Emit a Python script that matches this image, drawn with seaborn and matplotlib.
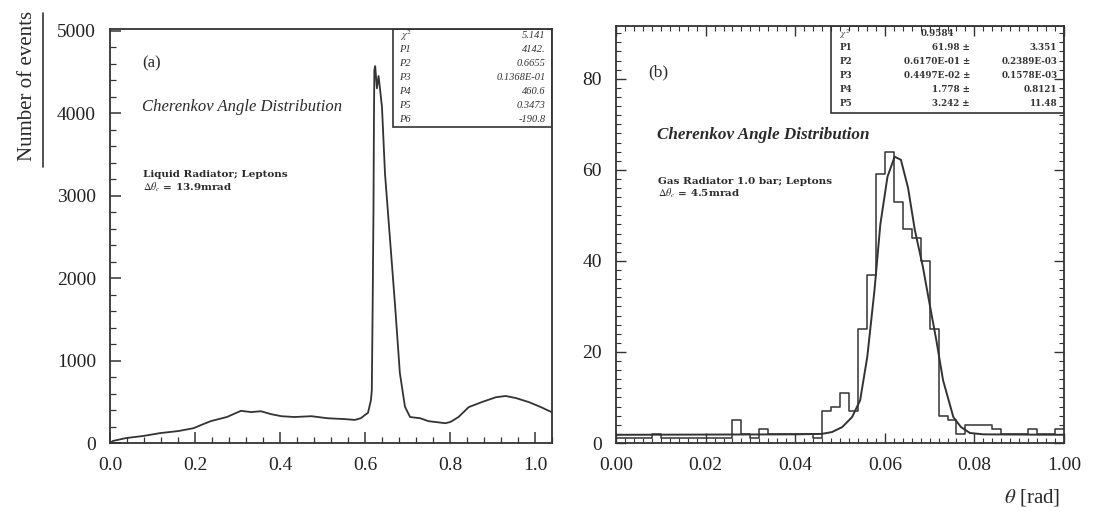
import numpy as np
import matplotlib
matplotlib.use("Agg")
import matplotlib.pyplot as plt
import seaborn as sns
from matplotlib.ticker import MultipleLocator, FixedLocator, FixedFormatter

sns.set_style("ticks")
plt.rcParams['font.family'] = ['Liberation Serif', 'DejaVu Serif']
plt.rcParams['mathtext.fontset'] = 'stix'

ink = '#333333'

# (a) liquid radiator, cherenkov angle [rad] vs number of events
theta_a = [0.000, 0.007, 0.038, 0.078, 0.118, 0.161, 0.197, 0.220, 0.237, 0.275,
           0.308, 0.332, 0.355, 0.379, 0.403, 0.434, 0.474, 0.512, 0.552, 0.576,
           0.590, 0.600, 0.607, 0.614, 0.616, 0.618, 0.620, 0.621, 0.622, 0.624,
           0.628, 0.632, 0.640, 0.647, 0.659, 0.671, 0.682, 0.694, 0.706, 0.730,
           0.749, 0.789, 0.801, 0.820, 0.844, 0.877, 0.908, 0.931, 0.955, 0.986,
           1.014, 1.043]
events_a = [0, 25, 60, 85, 120, 145, 180, 230, 265, 315,
            390, 375, 385, 350, 325, 315, 325, 300, 290, 280,
            300, 340, 365, 520, 640, 1650, 2860, 3880, 4520, 4570,
            4300, 4450, 4070, 3270, 2460, 1650, 850, 440, 315, 300,
            265, 240, 255, 315, 435, 500, 555, 570, 545, 495,
            435, 365]
xticks_a = [0.0, 0.2, 0.4, 0.6, 0.8, 1.0]
xlabels_a = ['0.0', '0.2', '0.4', '0.6', '0.8', '1.0']
stat_names_a = ['$\\chi^2$', 'P1', 'P2', 'P3', 'P4', 'P5', 'P6']
stat_vals_a = ['5.141', '4142.', '0.6655', '0.1368E-01', '460.6', '0.3473', '-190.8']

# (b) gas radiator, histogram with 0.002 rad bins + fit
bin_width_b = 0.002
counts_b = [1, 1, 1, 1, 2, 1, 1, 1, 1, 1,
            1, 1, 1, 5, 2, 1, 3, 2, 2, 2,
            2, 2, 1, 7, 8, 11, 7, 25, 37, 59,
            64, 53, 47, 45, 40, 25, 6, 5, 2, 4,
            4, 4, 3, 2, 2, 2, 3, 2, 2, 3]
fit_x_b = [0.000, 0.040, 0.0459, 0.0482, 0.0505, 0.0527, 0.0545, 0.0561, 0.0577, 0.0590,
           0.0606, 0.0622, 0.0636, 0.0652, 0.0667, 0.0685, 0.0701, 0.0715, 0.0730, 0.0753,
           0.0770, 0.0790, 0.0820, 0.1000]
fit_y_b = [1.8, 1.9, 2.0, 2.4, 3.5, 5.7, 9.4, 19.0, 33.6, 48.0,
           58.5, 62.9, 62.2, 56.0, 46.8, 38.7, 30.0, 22.6, 13.8, 5.7,
           3.5, 2.2, 1.9, 1.8]
xticks_b = [0.00, 0.02, 0.04, 0.06, 0.08, 0.10]
xlabels_b = ['0.00', '0.02', '0.04', '0.06', '0.08', '1.00']
stat_names_b = ['$\\chi^2$', 'P1', 'P2', 'P3', 'P4', 'P5']
stat_vals_b = ['0.9584', '61.98', '0.6170E-01', '0.4497E-02', '1.778', '3.242']
stat_errs_b = ['', '3.351', '0.2389E-03', '0.1578E-03', '0.8121', '11.48']

W, H = 1107, 513
fig = plt.figure(figsize=(W / 100, H / 100), dpi=100)
axa = fig.add_axes([110 / W, 1 - 443 / H, 442 / W, 414 / H])
axb = fig.add_axes([616 / W, 1 - 443 / H, 448 / W, 417 / H])

sns.lineplot(x=theta_a, y=events_a, ax=axa, color=ink, lw=1.3)
axa.set_xlim(0, 1.04)
axa.set_ylim(0, 5020)
axa.xaxis.set_major_locator(FixedLocator(xticks_a))
axa.xaxis.set_major_formatter(FixedFormatter(xlabels_a))
axa.xaxis.set_minor_locator(MultipleLocator(0.04))
axa.yaxis.set_major_locator(MultipleLocator(1000))
axa.yaxis.set_minor_locator(MultipleLocator(200))
axa.tick_params(which='both', direction='in', color=ink, labelsize=14, pad=10)
axa.tick_params(which='major', length=8, width=1.1)
axa.tick_params(which='minor', length=4, width=0.9)

edges_b = [round(i * bin_width_b, 4) for i in range(len(counts_b) + 1)]
centers_b = [e + bin_width_b / 2 for e in edges_b[:-1]]
sns.histplot(x=centers_b, weights=counts_b, bins=edges_b, element='step', fill=False,
             color=ink, lw=1.1, ax=axb)
sns.lineplot(x=fit_x_b, y=fit_y_b, ax=axb, color=ink, lw=1.4)
axb.set_xlim(0, 0.1)
axb.set_ylim(0, 91.6)
axb.xaxis.set_major_locator(FixedLocator(xticks_b))
axb.xaxis.set_major_formatter(FixedFormatter(xlabels_b))
axb.xaxis.set_minor_locator(MultipleLocator(0.002))
axb.yaxis.set_major_locator(MultipleLocator(20))
axb.yaxis.set_minor_locator(MultipleLocator(2))
axb.tick_params(which='both', direction='in', color=ink, labelsize=14, pad=10,
                top=True, right=True)
axb.tick_params(which='major', length=7, width=1.0)
axb.tick_params(which='minor', length=3.5, width=0.8)

for ax in (axa, axb):
    ax.set_xlabel('')
    ax.set_ylabel('')
    for s in ax.spines.values():
        s.set_visible(True)
        s.set_color(ink)
        s.set_linewidth(1.3)
    for lab in ax.get_xticklabels() + ax.get_yticklabels():
        lab.set_color('#222222')

# stats boxes (row positions in pixels from the top of the figure)
def ay(ax, y_px):
    bb = ax.get_position()
    return ((1 - y_px / H) - bb.y0) / bb.height

axa.add_patch(plt.Rectangle((0.64, ay(axa, 127)), 0.36, 1 - ay(axa, 127),
                            transform=axa.transAxes, fill=False, ec=ink, lw=1.2))
for i, (n, v) in enumerate(zip(stat_names_a, stat_vals_a)):
    yy = ay(axa, 36 + 14 * i)
    axa.text(0.655, yy, n, transform=axa.transAxes, fontsize=7.5, style='italic',
             va='center', ha='left', color=ink)
    axa.text(0.985, yy, v, transform=axa.transAxes, fontsize=7.5, style='italic',
             va='center', ha='right', color=ink)

axb.add_patch(plt.Rectangle((0.48, ay(axb, 113)), 0.52, 1 - ay(axb, 113),
                            transform=axb.transAxes, fill=False, ec=ink, lw=1.2))
small = ['DejaVu Serif']
for i, (n, v, e) in enumerate(zip(stat_names_b, stat_vals_b, stat_errs_b)):
    yy = ay(axb, 34 + 14 * i)
    axb.text(0.50, yy, n, transform=axb.transAxes, fontsize=6.3, weight='bold',
             family=small, va='center', ha='left', color=ink)
    if e:
        axb.text(0.79, yy, v + ' \u00b1', transform=axb.transAxes, fontsize=6.3,
                 weight='bold', family=small, va='center', ha='right', color=ink)
        axb.text(0.985, yy, e, transform=axb.transAxes, fontsize=6.3, weight='bold',
                 family=small, va='center', ha='right', color=ink)
    else:
        axb.text(0.68, yy, v, transform=axb.transAxes, fontsize=6.3, weight='bold',
                 family=small, va='center', ha='left', color=ink)


def ftxt(x, y, s, **kw):
    fig.text(x / W, 1 - y / H, s, color='#2a2a2a', **kw)


# panel annotations
ftxt(142, 63, '(a)', fontsize=12, va='center')
ftxt(142, 107, 'Cherenkov Angle Distribution', fontsize=12, style='italic', va='center')
ftxt(143, 175, 'Liquid Radiator; Leptons', fontsize=7.5, weight='bold',
     family=small, va='center')
ftxt(143, 187, '$\\Delta\\theta_c$ = 13.9mrad', fontsize=7.5, weight='bold',
     family=small, va='center')

ftxt(648, 72, '(b)', fontsize=12.5, va='center')
ftxt(657, 135, 'Cherenkov Angle Distribution', fontsize=12.3, style='italic',
     weight='bold', va='center')
ftxt(658, 181, 'Gas Radiator 1.0 bar; Leptons', fontsize=7.5, weight='bold',
     family=small, va='center')
ftxt(658, 193, '$\\Delta\\theta_c$ = 4.5mrad', fontsize=7.5, weight='bold',
     family=small, va='center')

# axis titles
ftxt(28, 86, 'Number of events', fontsize=15, rotation=90, ha='center', va='center')
fig.add_artist(plt.Line2D([43 / W, 43 / W], [1 - 13 / H, 1 - 167 / H], color=ink, lw=1.2))
ftxt(1060, 498, '$\\theta$ [rad]', fontsize=15, ha='right', va='center')

fig.savefig('out.png', dpi=100, facecolor='white')
